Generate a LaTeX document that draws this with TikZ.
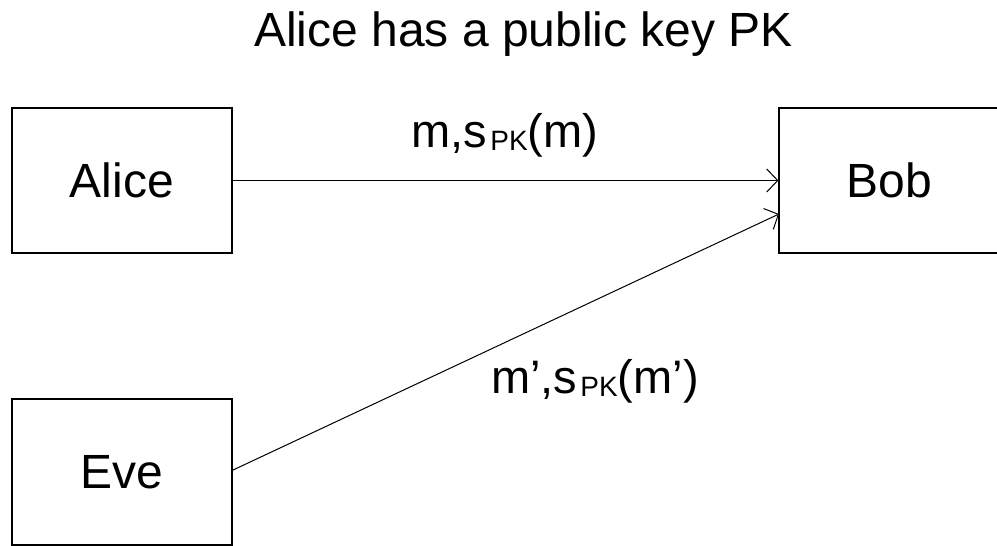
\documentclass[tikz,border=0pt]{standalone}
\usepackage{fontspec}
\setmainfont{Liberation Sans}
\usetikzlibrary{arrows.meta}
\newcommand\mysub[1]{\raisebox{-3pt}{\fontsize{28}{30}\selectfont #1}}
\begin{document}
\begin{tikzpicture}[x=1pt,y=-1pt,
  box/.style={draw, line width=1.2pt, minimum width=220pt, minimum height=145pt, inner sep=0pt, font=\fontsize{48}{54}\selectfont},
  conn/.style={line width=1pt, -{Straight Barb[length=11pt,width=23pt,line width=1pt]}},
  lbl/.style={anchor=base, inner sep=0pt, font=\fontsize{47}{52}\selectfont}]
\useasboundingbox (0,0) rectangle (997,546);
\node[anchor=base, inner sep=0pt, font=\fontsize{48}{54}\selectfont] (title) at (523.5,46.7) {Alice has a public key PK};
\node[box] (alice) at (122,180.5) {Alice};
\node[box] (bob) at (889,180.5) {Bob};
\node[box, minimum height=146pt] (eve) at (122,472) {Eve};
\coordinate (evestart) at (232,470.5);
\coordinate (bobin) at (779,214);
\draw[conn] (alice.east) -- (bob.west);
\draw[conn] (evestart) -- (bobin);
\node[lbl] (l1) at (505,147) {m,s\kern3pt\mysub{PK}(m)};
\node[lbl] (l2) at (595,393) {m’,s\kern3pt\mysub{PK}(m’)};
\end{tikzpicture}
\end{document}
